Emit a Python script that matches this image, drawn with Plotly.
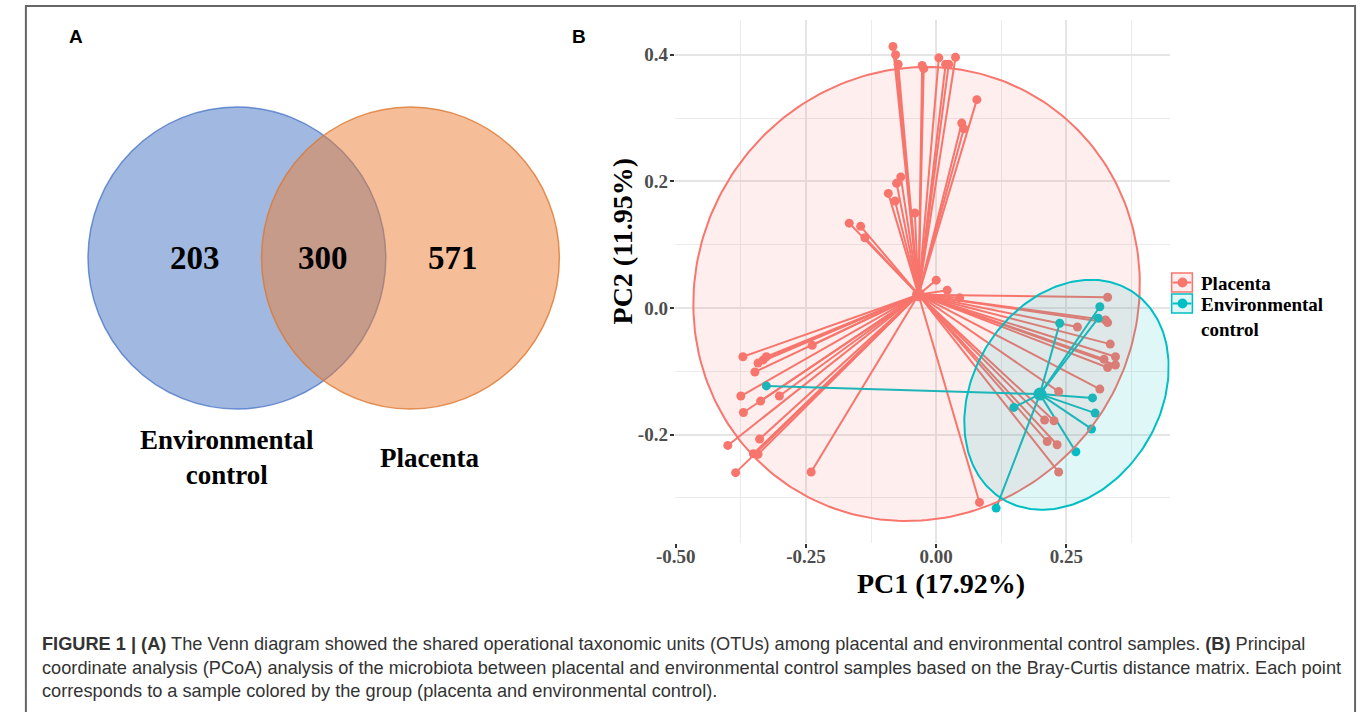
import numpy as np
import plotly.graph_objects as go

# ---------------- Data ----------------
# Venn diagram (A)
venn_sets = ["Environmental control", "Placenta"]
venn_only_env = 203
venn_shared = 300
venn_only_placenta = 571

# PCoA (B) - Placenta samples
placenta_pc1 = [-0.083, -0.078, -0.073, -0.027, -0.024, 0.005, 0.018, 0.024, 0.037,
                0.078, 0.049, 0.053, -0.068, -0.076, -0.092, -0.079, -0.041,
                -0.167, -0.145, -0.137, 0.000, 0.021, 0.045,
                -0.371, -0.238, -0.342, -0.332, -0.326, -0.348, -0.375, -0.337,
                -0.301, -0.370, -0.400, -0.339, -0.351, -0.342, -0.385, -0.240,
                0.329, 0.271, 0.325, 0.329, 0.334, 0.322, 0.344, 0.329, 0.344,
                0.314, 0.235, 0.208, 0.226, 0.213, 0.232, 0.235, 0.083]
placenta_pc2 = [0.413, 0.400, 0.385, 0.383, 0.378, 0.395, 0.385, 0.385, 0.396,
                0.329, 0.292, 0.283, 0.207, 0.197, 0.181, 0.169, 0.150,
                0.134, 0.129, 0.111, 0.044, 0.028, 0.016,
                -0.077, -0.059, -0.087, -0.082, -0.077, -0.101, -0.139, -0.147,
                -0.139, -0.165, -0.217, -0.207, -0.230, -0.231, -0.260, -0.259,
                0.017, -0.030, -0.019, -0.023, -0.057, -0.081, -0.077, -0.094, -0.090,
                -0.128, -0.132, -0.177, -0.178, -0.211, -0.216, -0.259, -0.307]

# PCoA (B) - Environmental control samples
env_pc1 = [0.237, 0.314, 0.311, 0.300, 0.149, 0.305, 0.298, 0.268, 0.115, -0.326]
env_pc2 = [-0.024, 0.002, -0.016, -0.142, -0.157, -0.166, -0.191, -0.227, -0.316, -0.123]

# group centroids
placenta_centroid = [-0.034, 0.021]
env_centroid = [0.199, -0.136]

# confidence ellipses: centre and two conjugate half-axis vectors (data units)
placenta_ell_center = [-0.0377, 0.0221]
placenta_ell_u = [0.3096, 0.2590]
placenta_ell_v = [0.2962, -0.2479]
env_ell_center = [0.250, -0.137]
env_ell_u = [0.1283, 0.1618]
env_ell_v = [0.1484, -0.0824]

x_tick_vals = [-0.50, -0.25, 0.00, 0.25]
x_tick_text = ["-0.50", "-0.25", "0.00", "0.25"]
y_tick_vals = [-0.2, 0.0, 0.2, 0.4]
y_tick_text = ["-0.2", "0.0", "0.2", "0.4"]

x_title = "PC1 (17.92%)"
y_title = "PC2 (11.95%)"
legend_names = ["Placenta", "Environmental<br>control"]

caption_lines = [
    "<b>FIGURE 1 | (A)</b> The Venn diagram showed the shared operational taxonomic units (OTUs) among placental and environmental control samples. <b>(B)</b> Principal",
    "coordinate analysis (PCoA) analysis of the microbiota between placental and environmental control samples based on the Bray-Curtis distance matrix. Each point",
    "corresponds to a sample colored by the group (placenta and environmental control).",
]

# ---------------- Style ----------------
RED = "#F8766D"
TEAL = "#00BFC4"
RED_FILL = "rgba(248,118,109,0.12)"
TEAL_FILL = "rgba(0,191,196,0.12)"
SERIF = "Liberation Serif"
SANS = "Liberation Sans"

W, H = 1360, 712


def px(x):
    """screen pixel x -> paper coordinate"""
    return x / W


def py(y):
    """screen pixel y -> paper coordinate"""
    return 1 - y / H


# panel placement (screen pixels)
PL, PR, PT, PB = 665, 1167, 20, 543
X_RANGE = [-0.5019, 0.4481]
Y_RANGE = [-0.3711, 0.4548]


def ellipse(center, u, v, n=240):
    t = np.linspace(0, 2 * np.pi, n)
    return (center[0] + u[0] * np.cos(t) + v[0] * np.sin(t),
            center[1] + u[1] * np.cos(t) + v[1] * np.sin(t))


def spokes(cx, cy, xs, ys):
    sx, sy = [], []
    for x, y in zip(xs, ys):
        sx += [cx, x, None]
        sy += [cy, y, None]
    return sx, sy


fig = go.Figure()

# segments from each sample to its group centroid
sx, sy = spokes(placenta_centroid[0], placenta_centroid[1], placenta_pc1, placenta_pc2)
fig.add_trace(go.Scatter(x=sx, y=sy, mode="lines", line=dict(color=RED, width=2),
                         hoverinfo="skip", showlegend=False))
sx, sy = spokes(env_centroid[0], env_centroid[1], env_pc1, env_pc2)
fig.add_trace(go.Scatter(x=sx, y=sy, mode="lines", line=dict(color=TEAL, width=2),
                         hoverinfo="skip", showlegend=False))

# sample points
fig.add_trace(go.Scatter(x=placenta_pc1, y=placenta_pc2, mode="markers", name="Placenta",
                         marker=dict(color=RED, size=9), showlegend=False))
fig.add_trace(go.Scatter(x=env_pc1, y=env_pc2, mode="markers", name="Environmental control",
                         marker=dict(color=TEAL, size=9), showlegend=False))
# centroids
fig.add_trace(go.Scatter(x=[placenta_centroid[0]], y=[placenta_centroid[1]], mode="markers",
                         marker=dict(color=RED, size=13), showlegend=False, hoverinfo="skip"))
fig.add_trace(go.Scatter(x=[env_centroid[0]], y=[env_centroid[1]], mode="markers",
                         marker=dict(color=TEAL, size=13), showlegend=False, hoverinfo="skip"))

# ellipses
ex, ey = ellipse(placenta_ell_center, placenta_ell_u, placenta_ell_v)
fig.add_trace(go.Scatter(x=ex, y=ey, mode="lines", fill="toself", fillcolor=RED_FILL,
                         line=dict(color=RED, width=2), hoverinfo="skip", showlegend=False))
ex, ey = ellipse(env_ell_center, env_ell_u, env_ell_v)
fig.add_trace(go.Scatter(x=ex, y=ey, mode="lines", fill="toself", fillcolor=TEAL_FILL,
                         line=dict(color=TEAL, width=2), hoverinfo="skip", showlegend=False))

fig.update_layout(
    width=W, height=H,
    margin=dict(l=0, r=0, t=0, b=0),
    paper_bgcolor="white", plot_bgcolor="white",
    showlegend=False,
    xaxis=dict(domain=[px(PL), px(PR)], range=X_RANGE, zeroline=False,
               tickvals=x_tick_vals, ticktext=["<b>%s</b>" % t for t in x_tick_text],
               tickfont=dict(family=SERIF, size=19, color="#4d4d4d"),
               ticks="outside", ticklen=4, tickwidth=1.5, tickcolor="#333",
               ticklabelstandoff=-8,
               showgrid=True, gridcolor="#e5e5e5", gridwidth=1.6,
               minor=dict(dtick=0.125, tick0=0.125, showgrid=True, gridcolor="#ebebeb", gridwidth=1.2, ticks=""),
               showline=False, fixedrange=True),
    yaxis=dict(domain=[py(PB), py(PT)], range=Y_RANGE, zeroline=False,
               tickvals=y_tick_vals, ticktext=["<b>%s</b>" % t for t in y_tick_text],
               tickfont=dict(family=SERIF, size=19, color="#4d4d4d"),
               ticks="outside", ticklen=4, tickwidth=1.5, tickcolor="#333",
               ticklabelstandoff=-2,
               showgrid=True, gridcolor="#e5e5e5", gridwidth=1.6,
               minor=dict(dtick=0.1, tick0=0.1, showgrid=True, gridcolor="#ebebeb", gridwidth=1.2, ticks=""),
               showline=False, fixedrange=True),
)

shapes = []
annotations = []

# outer frame
shapes.append(dict(type="rect", xref="paper", yref="paper", x0=px(7), x1=px(1355),
                   y0=-0.05, y1=py(6), line=dict(color="#666", width=2), fillcolor="rgba(0,0,0,0)"))

# Venn circles
shapes.append(dict(type="circle", xref="paper", yref="paper",
                   x0=px(70), x1=px(372), y0=py(409), y1=py(107),
                   fillcolor="rgba(68,114,196,0.5)", line=dict(color="rgba(68,114,196,0.75)", width=1.5),
                   layer="above"))
shapes.append(dict(type="circle", xref="paper", yref="paper",
                   x0=px(246), x1=px(548), y0=py(409), y1=py(107),
                   fillcolor="rgba(237,125,49,0.5)", line=dict(color="rgba(220,120,50,0.8)", width=1.5),
                   layer="above"))

for val, xc in zip([venn_only_env, venn_shared, venn_only_placenta], [178, 308, 440]):
    annotations.append(dict(x=px(xc), y=py(258), xref="paper", yref="paper", showarrow=False,
                            text="<b>%d</b>" % val, font=dict(family=SERIF, size=33, color="black"),
                            xanchor="center", yanchor="middle"))
annotations.append(dict(x=px(211), y=py(457), xref="paper", yref="paper", showarrow=False,
                        text="<b>Environmental<br>control</b>", align="center",
                        font=dict(family=SERIF, size=27, color="black"),
                        xanchor="center", yanchor="middle"))
annotations.append(dict(x=px(416), y=py(458), xref="paper", yref="paper", showarrow=False,
                        text="<b>%s</b>" % venn_sets[1], font=dict(family=SERIF, size=27, color="black"),
                        xanchor="center", yanchor="middle"))

# panel letters
annotations.append(dict(x=px(58), y=py(36), xref="paper", yref="paper", showarrow=False,
                        text="<b>A</b>", font=dict(family=SANS, size=19, color="black"),
                        xanchor="center", yanchor="middle"))
annotations.append(dict(x=px(568), y=py(36), xref="paper", yref="paper", showarrow=False,
                        text="<b>B</b>", font=dict(family=SANS, size=19, color="black"),
                        xanchor="center", yanchor="middle"))

# axis titles
annotations.append(dict(x=px(935), y=py(583), xref="paper", yref="paper", showarrow=False,
                        text="<b>%s</b>" % x_title, font=dict(family=SERIF, size=28, color="black"),
                        xanchor="center", yanchor="middle"))
annotations.append(dict(x=px(612), y=py(241), xref="paper", yref="paper", showarrow=False,
                        text="<b>%s</b>" % y_title, textangle=-90,
                        font=dict(family=SERIF, size=28, color="black"),
                        xanchor="center", yanchor="middle"))

# legend (drawn manually to mimic ggplot keys)
for (yk0, yk1), col, fill, name in [((273, 292), RED, RED_FILL, legend_names[0]),
                                     ((294, 313), TEAL, TEAL_FILL, legend_names[1])]:
    ym = (yk0 + yk1) / 2
    shapes.append(dict(type="rect", xref="paper", yref="paper", x0=px(1169), x1=px(1190),
                       y0=py(yk1), y1=py(yk0), line=dict(color=col, width=1.5), fillcolor=fill))
    shapes.append(dict(type="line", xref="paper", yref="paper", x0=px(1170), x1=px(1189),
                       y0=py(ym), y1=py(ym), line=dict(color=col, width=2)))
    shapes.append(dict(type="circle", xref="paper", yref="paper", x0=px(1175), x1=px(1185),
                       y0=py(ym + 5), y1=py(ym - 5), line=dict(color=col, width=0), fillcolor=col))
    annotations.append(dict(x=px(1197), y=py(yk0 - 2), xref="paper", yref="paper", showarrow=False,
                            text="<b>%s</b>" % name, align="left",
                            font=dict(family=SERIF, size=19, color="black"),
                            xanchor="left", yanchor="top"))

# caption
for i, line in enumerate(caption_lines):
    annotations.append(dict(x=px(21), y=py(644 + i * 23.5), xref="paper", yref="paper", showarrow=False,
                            text=line, font=dict(family=SANS, size=18.2, color="#333333"),
                            xanchor="left", yanchor="middle"))

fig.update_layout(shapes=shapes, annotations=annotations)
fig.write_html(
    "out.html",
    config={"displayModeBar": False},
    post_script="document.body.style.margin='0';document.body.style.overflow='hidden';",
)
